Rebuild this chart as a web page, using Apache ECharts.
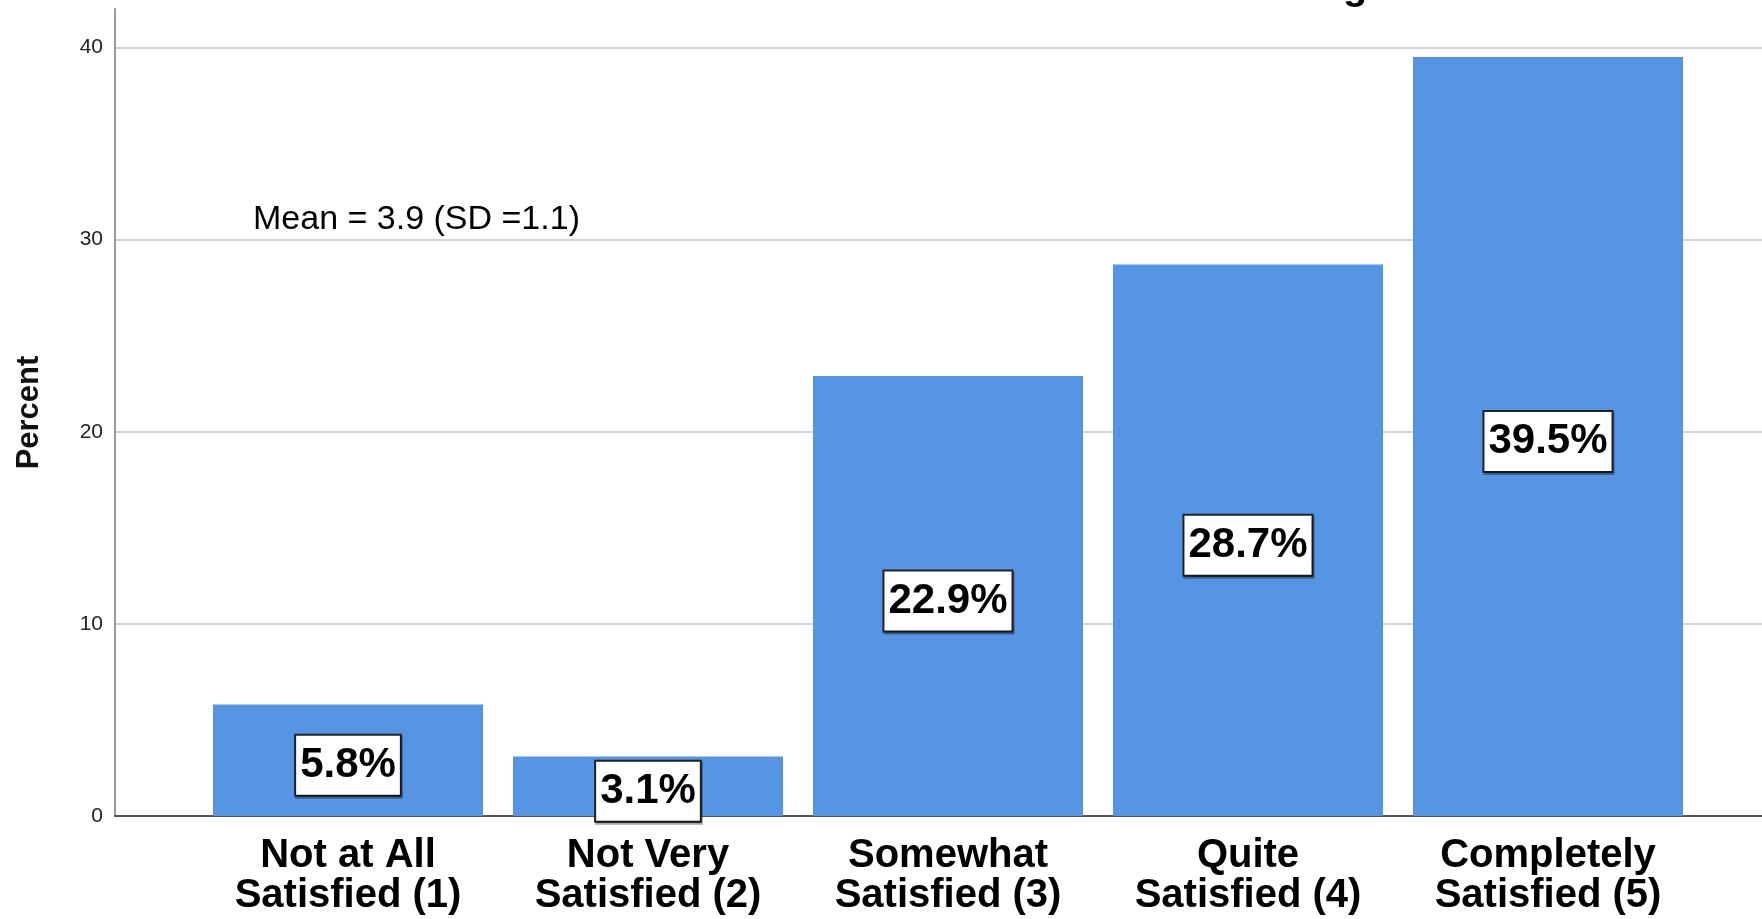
<!DOCTYPE html>
<html>
<head>
<meta charset="utf-8">
<script src="https://cdn.jsdelivr.net/npm/echarts@6/dist/echarts.min.js"></script>
<style>
    html, body { margin: 0; padding: 0; background: #fff; }
    #chart { width: 1762px; height: 919px; }
</style>
</head>
<body>
<div id="chart"></div>
<script>
// satisfaction rating, percent of respondents
var categories = [
    'Not at All\nSatisfied (1)',
    'Not Very\nSatisfied (2)',
    'Somewhat\nSatisfied (3)',
    'Quite\nSatisfied (4)',
    'Completely\nSatisfied (5)'
];
var percents = [5.8, 3.1, 22.9, 28.7, 39.5];
var yTicks = [0, 10, 20, 30, 40];
var meanText = 'Mean = 3.9 (SD =1.1)';

var font = '"Liberation Sans", Arial, sans-serif';
var yMax = 42;

var myChart = echarts.init(document.getElementById('chart'));

var option = {
    backgroundColor: '#fff',
    animation: false,
    textStyle: { fontFamily: font },
    grid: [
        // frame: y axis, gridlines and baseline
        { left: 115, right: 0, top: 9, bottom: 103 },
        // bars
        { left: 198, right: 64, top: 9, bottom: 103 }
    ],
    xAxis: [
        {
            type: 'category',
            gridIndex: 0,
            data: [''],
            axisLine: { show: true, lineStyle: { color: '#555', width: 2 } },
            axisTick: { show: false },
            axisLabel: { show: false }
        },
        {
            type: 'category',
            gridIndex: 1,
            data: categories,
            axisLine: { show: false },
            axisTick: { show: false },
            axisLabel: {
                interval: 0,
                margin: 20,
                color: '#000',
                fontSize: 40,
                fontWeight: 'bold',
                lineHeight: 40,
                fontFamily: font
            }
        }
    ],
    yAxis: [
        {
            type: 'value',
            gridIndex: 0,
            min: 0,
            max: yMax,
            interval: 10,
            name: 'Percent',
            nameLocation: 'middle',
            nameGap: 70,
            nameTextStyle: { fontSize: 31, fontWeight: 'bold', color: '#111', fontFamily: font },
            axisLine: { show: true, lineStyle: { color: '#999', width: 2 } },
            axisTick: { show: false },
            axisLabel: {
                margin: 12,
                fontSize: 21,
                color: '#222',
                formatter: function (v) {
                    return yTicks.indexOf(v) >= 0 ? String(v) : '';
                }
            },
            splitLine: {
                show: true,
                showMaxLine: false,
                lineStyle: { color: '#d4d4d4', width: 2 }
            }
        },
        {
            type: 'value',
            gridIndex: 1,
            min: 0,
            max: yMax,
            show: false,
            splitLine: { show: false }
        }
    ],
    graphic: [
        {
            type: 'text',
            left: 253,
            top: 203,
            style: { text: meanText, fontSize: 34, fill: '#000', fontFamily: font }
        },
        {
            // tail of the cropped chart title
            type: 'text',
            x: 1343,
            y: -12,
            style: {
                text: 'g',
                fontSize: 40,
                fontWeight: 'bold',
                fill: '#000',
                fontFamily: font,
                verticalAlign: 'middle'
            }
        }
    ],
    series: [
        {
            type: 'bar',
            xAxisIndex: 1,
            yAxisIndex: 1,
            data: percents,
            barWidth: '90%',
            itemStyle: { color: '#5595e3' },
            label: {
                show: true,
                position: 'inside',
                offset: [0, 5],
                formatter: '{c}%',
                color: '#000',
                fontSize: 42,
                fontWeight: 'bold',
                fontFamily: font,
                backgroundColor: '#fff',
                borderColor: '#222',
                borderWidth: 2,
                padding: [9, 4, 8, 4],
                shadowColor: 'rgba(0,0,0,0.35)',
                shadowOffsetX: 1,
                shadowOffsetY: 2
            },
            z: 3
        }
    ]
};

myChart.setOption(option);
</script>
</body>
</html>
